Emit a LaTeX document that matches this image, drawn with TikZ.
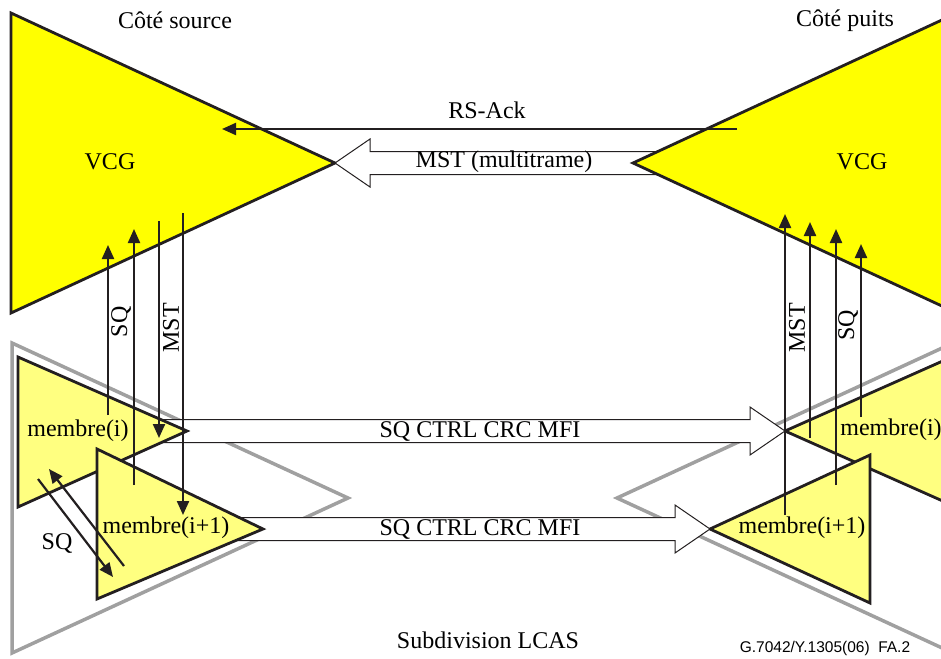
\documentclass[tikz,border=0pt]{standalone}
\usepackage{fontspec}
\setmainfont{Liberation Serif}
\newfontfamily\footfont{Liberation Sans}
\usetikzlibrary{calc}
\usetikzlibrary{arrows.meta}
\usepackage{xcolor}

\definecolor{vcgyellow}{RGB}{255,255,0}
\definecolor{memyellow}{RGB}{255,255,128}
\definecolor{lcasgray}{RGB}{160,160,160}
\definecolor{ink}{RGB}{35,31,32}

\tikzset{
  vcg/.style={fill=vcgyellow,draw=ink,line width=2.8pt},
  membre/.style={fill=memyellow,draw=ink,line width=2.8pt},
  lcas/.style={draw=lcasgray,line width=3.5pt},
  blockarrow/.style={fill=white,draw=ink,line width=1pt},
  sig/.style={draw=ink,line width=2.2pt,-{Triangle[length=14pt,width=12pt]}},
  lbl/.style={font=\fontsize{24}{28}\selectfont,inner sep=0pt},
}

% #1 tail, #2 tip of a hollow arrow
\newcommand{\blockarr}[2]{
  \coordinate (hb) at ($(#2)!35pt!(#1)$);
  \draw[blockarrow] ($(#1)+(0,-11.5)$) -- ($(hb)+(0,-11.5)$) -- ($(hb)+(0,-24)$)
    -- (#2) -- ($(hb)+(0,24)$) -- ($(hb)+(0,11.5)$) -- ($(#1)+(0,11.5)$) -- cycle;
  \draw[ink,line width=0.7pt] ($(#2)!0.2!(#2 a)$) -- (#2) -- ($(#2)!0.2!(#2 b)$);
}

\begin{document}
\begin{tikzpicture}[x=1pt,y=-1pt]
\clip (0,0) rectangle (941,658);

\coordinate (sv a) at (11,13);
\coordinate (sv b) at (11,313);
\coordinate (sv) at (335,163);
\coordinate (pv) at (633,163);
\coordinate (pv a) at (957,13);
\coordinate (pv b) at (957,313);
\coordinate (mst tail) at (690,163);

\coordinate (si a) at (18,357);
\coordinate (si b) at (18,507);
\coordinate (si) at (187,431);
\coordinate (sj a) at (97,449);
\coordinate (sj b) at (97,599);
\coordinate (sj) at (263,529);
\coordinate (pi) at (785,431);
\coordinate (pi a) at (954,356);
\coordinate (pi b) at (954,506);
\coordinate (pj) at (710,529);
\coordinate (pj a) at (870,455);
\coordinate (pj b) at (870,603);

% VCG and MST multitrame
\draw[vcg] (sv a)--(sv)--(sv b)--cycle;
\blockarr{mst tail}{sv}
\draw[vcg] (pv a)--(pv)--(pv b)--cycle;

% LCAS
\draw[lcas] (12,343)--(348,498)--(12,653)--cycle;
\draw[lcas] (953,343)--(617,498)--(953,653)--cycle;

\draw[membre] (pi a)--(pi)--(pi b)--cycle;
\draw[membre] (pj a)--(pj)--(pj b)--cycle;
\coordinate (si tail) at (150,431);
\coordinate (sj tail) at (230,529);
\blockarr{si tail}{pi}
\blockarr{sj tail}{pj}
\draw[membre] (si a)--(si)--(si b)--cycle;
\draw[membre] (sj a)--(sj)--(sj b)--cycle;

% RS-Ack
\coordinate (ack s) at (737,129);
\coordinate (ack e) at (222,129);
\draw[sig] (ack s) -- (ack e);

\foreach \n/\x/\ya/\yb in {l1/108/415/245, l2/134/485/229, l3/159/221/438, l4/183/213/515,
    r1/785/515/214, r2/810/438/222, r3/836/485/229, r4/861/417/244}{
  \coordinate (\n s) at (\x,\ya);
  \coordinate (\n e) at (\x,\yb);
  \draw[sig] (\n s) -- (\n e);
}
\coordinate (d1 s) at (38,479);
\coordinate (d1 e) at (113,577);
\coordinate (d2 s) at (124,566);
\coordinate (d2 e) at (49,469);
\draw[sig] (d1 s) -- (d1 e);
\draw[sig] (d2 s) -- (d2 e);

\node[lbl] (src) at (175,20) {Côté source};
\node[lbl] (snk) at (845,21) {Côté puits};
\node[lbl] (vcg s) at (110,162) {VCG};
\node[lbl] (vcg p) at (862,162) {VCG};
\node[lbl] (ack) at (487,110) {RS-Ack};
\node[lbl] (mst) at (504,162) {MST (multitrame)};
\node[lbl,rotate=90] (sq l) at (121,322) {SQ};
\node[lbl,rotate=90] (mst l) at (171,328) {MST};
\node[lbl,rotate=90] (mst r) at (797,328) {MST};
\node[lbl,rotate=90] (sq r) at (848,325) {SQ};
\node[lbl] (mi s) at (78,431) {membre(i)};
\node[lbl] (mj s) at (166,528) {membre(i+1)};
\node[lbl] (mi p) at (891,430) {membre(i)};
\node[lbl] (mj p) at (802,528) {membre(i+1)};
\node[lbl] (ctrl a) at (480,431) {SQ CTRL CRC MFI};
\node[lbl] (ctrl b) at (480,529) {SQ CTRL CRC MFI};
\node[lbl] (sq d) at (57,543) {SQ};
\node[lbl] (lcas) at (488,640) {Subdivision LCAS};
\node[font=\footfont\fontsize{15.5}{18}\selectfont,inner sep=0pt] (fig) at (825,648) {G.7042/Y.1305(06)\ \ FA.2};

\end{tikzpicture}
\end{document}
